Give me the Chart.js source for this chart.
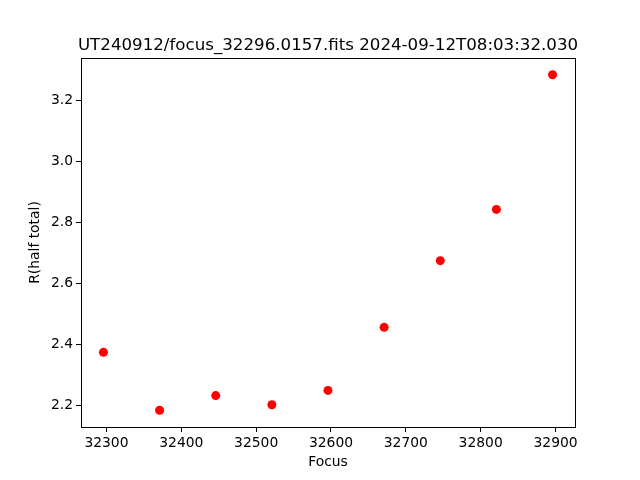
<!DOCTYPE html>
<html>
<head>
<meta charset="utf-8">
<script src="https://cdn.jsdelivr.net/npm/chart.js@4/dist/chart.umd.min.js"></script>
<style>
html,body{margin:0;padding:0;background:#fff;}
#wrap{width:640px;height:480px;}
</style>
</head>
<body>
<div id="wrap"><canvas id="c" width="640" height="480"></canvas></div>
<script>
const titleText = "UT240912/focus_32296.0157.fits 2024-09-12T08:03:32.030";
const focusValues = [32296, 32371, 32446, 32521, 32596, 32671, 32746, 32821, 32896];
const radiusValues = [2.374, 2.184, 2.232, 2.202, 2.249, 2.456, 2.675, 2.843, 3.285];
const xTicks = [32300, 32400, 32500, 32600, 32700, 32800, 32900];
const yTicks = [2.2, 2.4, 2.6, 2.8, 3.0, 3.2];
const xLabel = "Focus";
const yLabel = "R(half total)";

const FONT = "'DejaVu Sans', sans-serif";
Chart.defaults.font.family = FONT;
Chart.defaults.color = '#000';

const framePlugin = {
  id: 'frame',
  afterDraw(chart) {
    const a = chart.chartArea, ctx = chart.ctx;
    ctx.save();
    ctx.strokeStyle = '#000';
    ctx.lineWidth = 1;
    ctx.strokeRect(Math.round(a.left) + 0.5, Math.round(a.top) + 0.5, Math.round(a.right - a.left), Math.round(a.bottom - a.top));
    ctx.fillStyle = '#000';
    ctx.font = "16.67px " + FONT;
    ctx.textAlign = 'center';
    ctx.textBaseline = 'alphabetic';
    ctx.fillText(titleText, (a.left + a.right) / 2, a.top - 8);
    ctx.restore();
  }
};

new Chart(document.getElementById('c'), {
  type: 'scatter',
  data: {
    datasets: [{
      data: focusValues.map((f, i) => ({x: f, y: radiusValues[i]})),
      backgroundColor: '#ff0000',
      borderColor: '#ff0000',
      pointRadius: 4.5,
      pointHoverRadius: 4.5,
      borderWidth: 0
    }]
  },
  options: {
    responsive: false,
    animation: false,
    events: [],
    layout: {padding: {left: 0, right: 65, top: 58, bottom: 0}},
    plugins: {
      legend: {display: false},
      tooltip: {enabled: false},
      title: {display: false}
    },
    scales: {
      x: {
        type: 'linear',
        min: 32266,
        max: 32926,
        afterBuildTicks: s => { s.ticks = xTicks.map(v => ({value: v})); },
        afterFit: s => { s.height = 53; },
        ticks: {
          callback: v => String(v),
          font: {size: 13.89, family: FONT},
          color: '#000',
          padding: 3,
          maxRotation: 0,
          autoSkip: false
        },
        grid: {display: true, drawOnChartArea: false, drawTicks: true, tickLength: 5, color: '#000'},
        border: {display: true, color: '#000'},
        title: {display: true, text: xLabel, color: '#000', font: {size: 13.89, family: FONT}, padding: {top: 0, bottom: 9.7}}
      },
      y: {
        type: 'linear',
        min: 2.129,
        max: 3.340,
        afterBuildTicks: s => { s.ticks = yTicks.map(v => ({value: v})); },
        afterFit: s => { s.width = 81; },
        ticks: {
          callback: v => v.toFixed(1),
          font: {size: 13.89, family: FONT},
          color: '#000',
          padding: 3,
          autoSkip: false
        },
        grid: {display: true, drawOnChartArea: false, drawTicks: true, tickLength: 5, color: '#000'},
        border: {display: true, color: '#000'},
        title: {display: true, text: yLabel, color: '#000', font: {size: 13.89, family: FONT}, padding: {top: 27, bottom: 0}}
      }
    }
  },
  plugins: [framePlugin]
});
</script>
</body>
</html>
